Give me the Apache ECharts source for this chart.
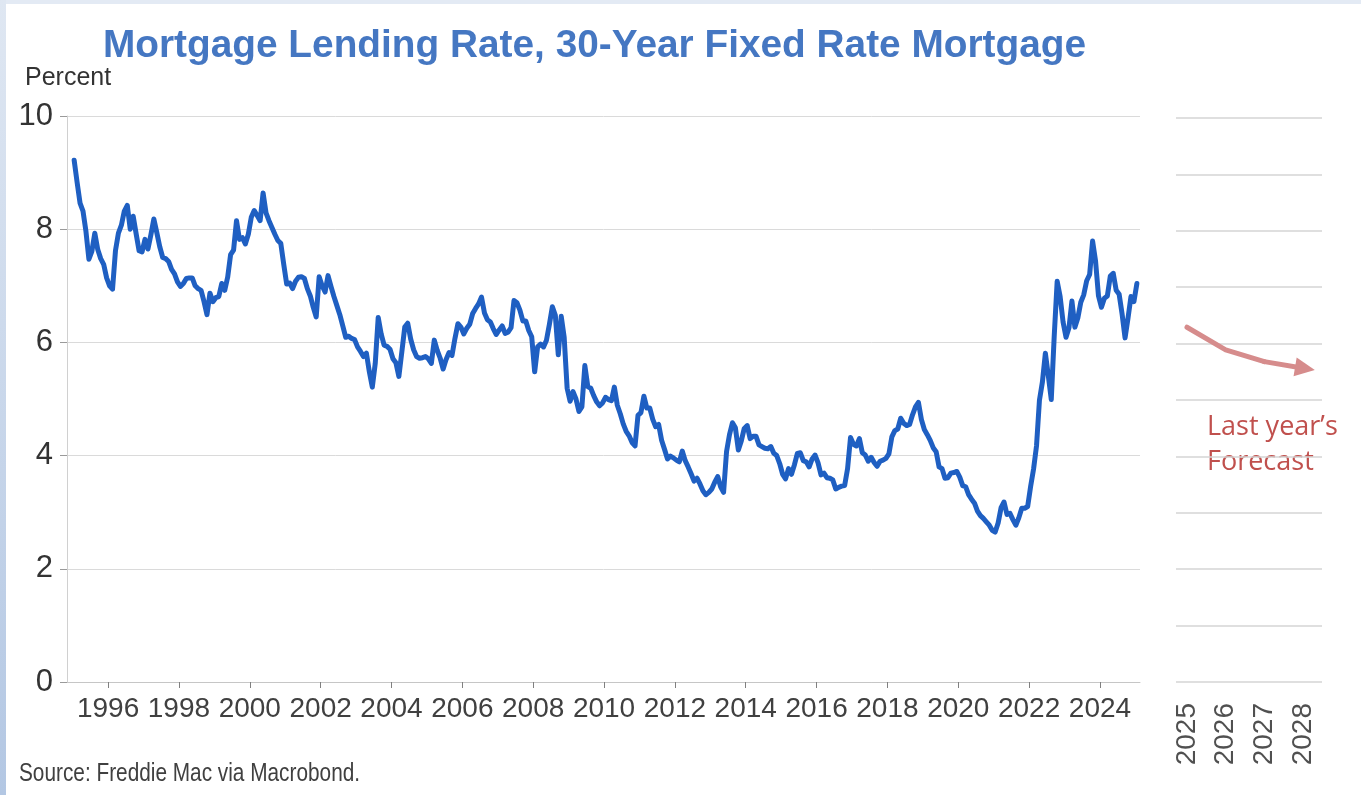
<!DOCTYPE html>
<html>
<head>
<meta charset="utf-8">
<title>Mortgage Lending Rate, 30-Year Fixed Rate Mortgage</title>
<script src="https://cdn.jsdelivr.net/npm/echarts@6/dist/echarts.min.js"></script>
<style>
  html, body { margin: 0; padding: 0; background: #ffffff; }
  #chart { width: 1361px; height: 795px; }
</style>
</head>
<body>
<div id="chart"></div>
<script>
// Freddie Mac 30-year fixed mortgage rate, percent, one reading per month (Jan..Dec)
const rate1995 = [9.22, 8.83, 8.46, 8.32, 7.96, 7.47, 7.61, 7.93, 7.64, 7.48, 7.38, 7.14];
const rate1996 = [7.00, 6.94, 7.62, 7.93, 8.07, 8.32, 8.42, 8.00, 8.23, 7.92, 7.62, 7.60];
const rate1997 = [7.82, 7.65, 7.90, 8.18, 7.94, 7.69, 7.50, 7.48, 7.43, 7.29, 7.21, 7.07];
const rate1998 = [6.99, 7.04, 7.13, 7.14, 7.14, 7.00, 6.95, 6.92, 6.72, 6.49, 6.87, 6.72];
const rate1999 = [6.79, 6.81, 7.04, 6.92, 7.15, 7.55, 7.63, 8.15, 7.82, 7.85, 7.74, 7.91];
const rate2000 = [8.21, 8.33, 8.24, 8.15, 8.64, 8.29, 8.15, 8.03, 7.91, 7.80, 7.75, 7.38];
const rate2001 = [7.03, 7.05, 6.95, 7.08, 7.15, 7.16, 7.13, 6.95, 6.82, 6.62, 6.45, 7.16];
const rate2002 = [7.00, 6.89, 7.18, 6.99, 6.81, 6.65, 6.49, 6.29, 6.09, 6.11, 6.07, 6.05];
const rate2003 = [5.92, 5.84, 5.75, 5.81, 5.48, 5.21, 5.63, 6.44, 6.15, 5.95, 5.93, 5.88];
const rate2004 = [5.71, 5.64, 5.40, 5.83, 6.27, 6.34, 6.06, 5.87, 5.75, 5.72, 5.73, 5.75];
const rate2005 = [5.71, 5.63, 6.04, 5.86, 5.72, 5.53, 5.70, 5.82, 5.77, 6.07, 6.33, 6.27];
const rate2006 = [6.15, 6.25, 6.32, 6.51, 6.60, 6.68, 6.80, 6.52, 6.40, 6.36, 6.24, 6.14];
const rate2007 = [6.22, 6.29, 6.16, 6.18, 6.26, 6.74, 6.70, 6.57, 6.38, 6.38, 6.21, 6.10];
const rate2008 = [5.48, 5.92, 5.97, 5.92, 6.04, 6.32, 6.63, 6.48, 5.78, 6.46, 6.09, 5.19];
const rate2009 = [4.96, 5.13, 5.00, 4.78, 4.86, 5.59, 5.22, 5.19, 5.06, 4.95, 4.88, 4.93];
const rate2010 = [5.03, 4.99, 4.97, 5.21, 4.89, 4.74, 4.56, 4.43, 4.35, 4.23, 4.17, 4.71];
const rate2011 = [4.76, 5.05, 4.84, 4.84, 4.64, 4.51, 4.55, 4.27, 4.11, 3.94, 3.99, 3.96];
const rate2012 = [3.92, 3.89, 4.08, 3.91, 3.80, 3.68, 3.55, 3.60, 3.50, 3.38, 3.31, 3.35];
const rate2013 = [3.41, 3.53, 3.63, 3.45, 3.35, 4.07, 4.37, 4.58, 4.49, 4.10, 4.26, 4.48];
const rate2014 = [4.53, 4.30, 4.34, 4.34, 4.19, 4.16, 4.13, 4.12, 4.16, 4.04, 4.00, 3.86];
const rate2015 = [3.67, 3.59, 3.77, 3.67, 3.84, 4.04, 4.05, 3.91, 3.89, 3.80, 3.94, 4.01];
const rate2016 = [3.87, 3.66, 3.69, 3.61, 3.60, 3.57, 3.41, 3.44, 3.46, 3.47, 3.77, 4.32];
const rate2017 = [4.20, 4.17, 4.30, 4.05, 4.01, 3.90, 3.97, 3.88, 3.81, 3.90, 3.92, 3.95];
const rate2018 = [4.03, 4.33, 4.44, 4.47, 4.66, 4.57, 4.53, 4.55, 4.72, 4.86, 4.94, 4.64];
const rate2019 = [4.46, 4.37, 4.27, 4.14, 4.07, 3.80, 3.77, 3.60, 3.61, 3.69, 3.70, 3.72];
const rate2020 = [3.62, 3.47, 3.45, 3.31, 3.23, 3.16, 3.02, 2.94, 2.89, 2.83, 2.77, 2.68];
const rate2021 = [2.65, 2.81, 3.08, 3.18, 2.96, 2.98, 2.87, 2.77, 2.90, 3.07, 3.07, 3.10];
const rate2022 = [3.45, 3.76, 4.17, 4.98, 5.30, 5.81, 5.41, 4.99, 6.11, 7.08, 6.81, 6.36];
const rate2023 = [6.09, 6.26, 6.73, 6.27, 6.43, 6.71, 6.84, 7.09, 7.20, 7.79, 7.44, 6.82];
const rate2024 = [6.62, 6.78, 6.82, 7.17, 7.22, 6.92, 6.85, 6.50, 6.08, 6.43, 6.81, 6.72];
const rate2025 = [7.04];

const rateYears = [1995, 1996, 1997, 1998, 1999, 2000, 2001, 2002, 2003, 2004, 2005, 2006,
  2007, 2008, 2009, 2010, 2011, 2012, 2013, 2014, 2015, 2016, 2017, 2018, 2019, 2020,
  2021, 2022, 2023, 2024, 2025];
const rateByYear = [rate1995, rate1996, rate1997, rate1998, rate1999, rate2000, rate2001,
  rate2002, rate2003, rate2004, rate2005, rate2006, rate2007, rate2008, rate2009, rate2010,
  rate2011, rate2012, rate2013, rate2014, rate2015, rate2016, rate2017, rate2018, rate2019,
  rate2020, rate2021, rate2022, rate2023, rate2024, rate2025];

// Year labels on the history axis
const historyTicks = [1996, 1998, 2000, 2002, 2004, 2006, 2008, 2010, 2012, 2014, 2016,
  2018, 2020, 2022, 2024];

// Year labels on the forecast panel
const forecastTicks = [2025, 2026, 2027, 2028];

// Last year's forecast path; the arrowhead sits just past 2028
const forecastYears = [2025, 2026, 2027, 2028.05];
const forecastRate = [6.29, 5.89, 5.68, 5.56];

// Month readings placed at mid-month on a decimal-year axis
const rateSeries = [];
rateByYear.forEach((vals, i) => {
  vals.forEach((v, m) => rateSeries.push([rateYears[i] + (m + 0.5) / 12, v]));
});
const forecastSeries = forecastYears.map((y, i) => [y, forecastRate[i]]);
const nF = forecastSeries.length;

const FONT = '"Liberation Sans", Arial, Helvetica, sans-serif';
const BLUE = '#1f5fc2';
const PINK = '#d68c8c';

const chart = echarts.init(document.getElementById('chart'), null, { renderer: 'canvas' });

chart.setOption({
  animation: false,
  backgroundColor: '#ffffff',
  title: {
    text: 'Mortgage Lending Rate, 30-Year Fixed Rate Mortgage',
    left: 98,
    top: 22,
    textStyle: { fontFamily: FONT, fontSize: 38.8, fontWeight: 'bold', color: '#4577c2' }
  },
  grid: [
    { left: 67, right: 221, top: 116, bottom: 113 },
    { left: 1176, right: 39, top: 118, bottom: 113 }
  ],
  xAxis: [
    {
      type: 'value', gridIndex: 0, min: 1994.84, max: 2025.13,
      splitLine: { show: false },
      axisLine: { show: true, lineStyle: { color: '#c6c6c6', width: 1 } },
      axisTick: { show: true, customValues: historyTicks, length: 6, lineStyle: { color: '#808080' } },
      axisLabel: {
        customValues: historyTicks, formatter: v => String(v),
        fontFamily: FONT, fontSize: 28, color: '#404040', margin: 13
      }
    },
    {
      type: 'value', gridIndex: 1, min: 2024.716, max: 2028.49,
      splitLine: { show: false },
      axisLine: { show: false },
      axisTick: { show: false },
      axisLabel: {
        customValues: forecastTicks, formatter: v => String(v), rotate: 90,
        fontFamily: FONT, fontSize: 28, color: '#505050', margin: 21
      }
    }
  ],
  yAxis: [
    {
      type: 'value', gridIndex: 0, min: 0, max: 10, interval: 2,
      axisLine: { show: true, lineStyle: { color: '#d0d0d0' } },
      axisTick: { show: true, length: 7, lineStyle: { color: '#9a9a9a' } },
      axisLabel: { fontFamily: FONT, fontSize: 31, color: '#333333', margin: 14 },
      splitLine: { show: true, lineStyle: { color: '#dadada', width: 1 } }
    },
    {
      type: 'value', gridIndex: 1, min: 0, max: 10, interval: 1,
      axisLine: { show: false },
      axisTick: { show: false },
      axisLabel: { show: false },
      splitLine: { show: true, lineStyle: { color: '#d4d4d4', width: 1.5 } }
    }
  ],
  series: [
    {
      name: '30-year fixed',
      type: 'line',
      xAxisIndex: 0, yAxisIndex: 0,
      data: rateSeries,
      symbol: 'none',
      showSymbol: false,
      lineStyle: { color: BLUE, width: 5, cap: 'round', join: 'round' },
      z: 3
    },
    {
      name: "Last year's forecast",
      type: 'line',
      xAxisIndex: 1, yAxisIndex: 1,
      data: forecastSeries.slice(0, nF - 1),
      symbol: 'none',
      showSymbol: false,
      lineStyle: { color: PINK, width: 5, cap: 'round', join: 'round' },
      markLine: {
        silent: true,
        symbol: ['none', 'triangle'],
        symbolSize: [19, 20],
        label: { show: false },
        lineStyle: { color: PINK, width: 5, type: 'solid', cap: 'round' },
        data: [[{ coord: forecastSeries[nF - 2] }, { coord: forecastSeries[nF - 1] }]]
      },
      z: 3
    }
  ],
  graphic: [
    {
      type: 'rect', z: -10, silent: true,
      shape: { x: 0, y: 0, width: 1361, height: 4 },
      style: { fill: '#e3eaf4' }
    },
    {
      type: 'rect', z: -10, silent: true,
      shape: { x: 0, y: 0, width: 6, height: 795 },
      style: {
        fill: new echarts.graphic.LinearGradient(0, 0, 0, 1, [
          { offset: 0, color: '#dfe7f2' },
          { offset: 1, color: '#b3c7e3' }
        ])
      }
    },
    {
      type: 'text', x: 25, y: 66, silent: true,
      style: { text: 'Percent', fontFamily: FONT, fontSize: 25, fill: '#333333' }
    },
    {
      type: 'text', x: 19, y: 761, scaleX: 0.8, silent: true,
      style: { text: 'Source: Freddie Mac via Macrobond.', fontFamily: FONT, fontSize: 26, fill: '#404040' }
    },
    {
      type: 'text', x: 1207, y: 410, silent: true,
      style: {
        text: 'Last year\u2019s\nForecast',
        fontFamily: '"Open Sans", "Liberation Sans", sans-serif',
        fontSize: 27, lineHeight: 35, fill: '#c0504d'
      }
    }
  ]
});
</script>
</body>
</html>
